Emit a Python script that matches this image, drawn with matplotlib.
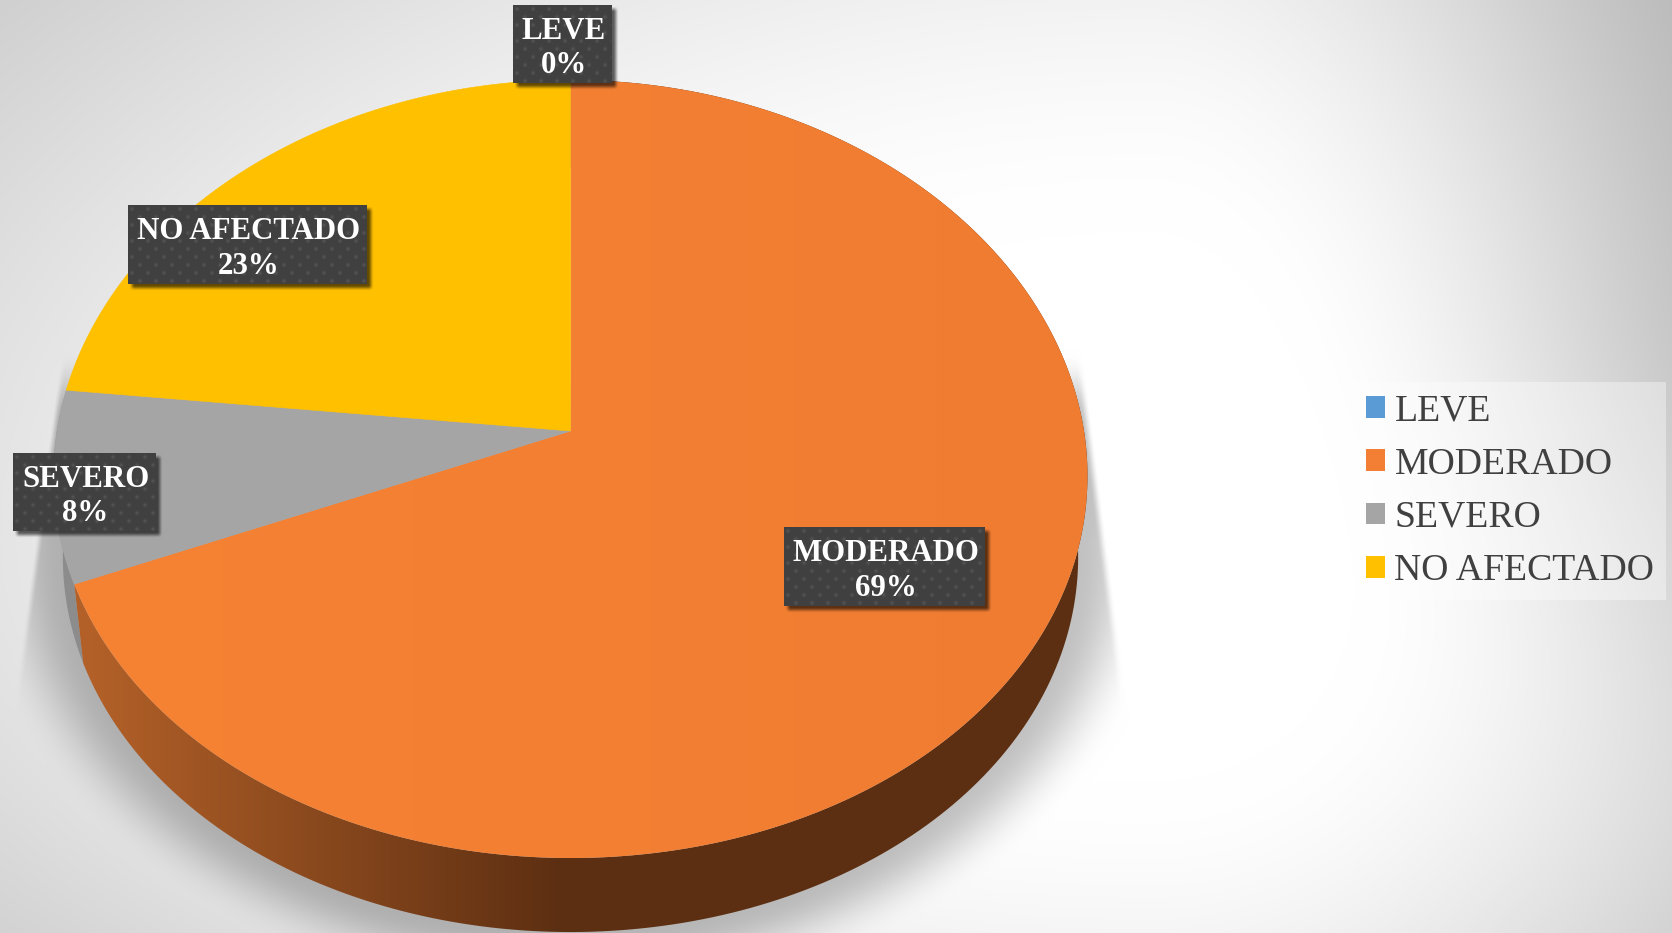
import numpy as np
import matplotlib
matplotlib.use("Agg")
import matplotlib.pyplot as plt
from matplotlib.patches import Patch, Polygon

categories = ["LEVE", "MODERADO", "SEVERO", "NO AFECTADO"]
percentages = [0, 69, 8, 23]
colors = ["#5B9BD5", "#F27F33", "#A5A5A5", "#FFC000"]
# label boxes: left, top, right, bottom in figure pixels
label_boxes = [(513, 5, 612, 83), (784, 527, 985, 606), (13, 453, 156, 531), (128, 205, 367, 284)]

W, H = 1672, 933
SERIF = "Liberation Serif"

# perspective disc parameters
CX, APEX_Y = 570.5, 431.0
A, B, K = 385.3, 514.5, 0.0977
SAG = 7.0
SCALE_LOW, APEX_LOW = 0.982, 512.7


def smooth(t):
    t = np.clip(t, 0, 1)
    return t * t * (3 - 2 * t)


def rim_top(theta):
    u, v = np.sin(theta), np.cos(theta)
    w = 1 + K * v
    return CX + B * u / w, APEX_Y - A * v / w + SAG * u ** 2


def rim_low(theta):
    x, y = rim_top(theta)
    return CX + SCALE_LOW * (x - CX), APEX_LOW + SCALE_LOW * (y - APEX_Y)


def background():
    yy, xx = np.mgrid[0:H, 0:W] + 0.5
    dx = xx - 1150.0
    sx = np.where(dx < 0, 2400.0, 800.0 + 300.0 * smooth((yy - 300.0) / 600.0))
    d = np.sqrt((dx / sx) ** 2 + ((yy - 540.0) / (np.where(yy < 540, 1400.0, 1100.0))) ** 2)
    base = 255 - 78 * smooth((d - 0.22) / 0.72) ** 0.9
    # soft shadow below the disc, limited by two slanted edges and starting at mid height
    def radius(cy, rx, ry):
        return np.sqrt(((xx - CX) / rx) ** 2 + ((yy - cy) / ry) ** 2)
    r = np.minimum(radius(469, 517, 389), radius(550, 508, 382))
    fade = smooth(1 - (r - 1) * 500 / 95) ** 1.3
    left_edge = 48 - (yy - 447) * 0.136
    right_edge = 1083 + (yy - 353) * 0.127
    mask = (smooth((xx - left_edge) / 8) * smooth((right_edge - xx) / 10)
            * smooth((yy - 350.0) / 70.0))
    base = base * (1 - 0.24 * fade * mask)
    return np.dstack([base] * 3) / 255


def gradient_fill(ax, poly, left_rgb, right_rgb, x0, x1, zorder):
    t = np.clip((np.arange(W) + 0.5 - x0) / (x1 - x0), 0, 1)
    row = np.outer(1 - t, left_rgb) + np.outer(t, right_rgb)
    im = ax.imshow(row[None, :, :] / 255, extent=(0, W, H, 0), aspect="auto", zorder=zorder)
    patch = Polygon(poly, closed=True, transform=ax.transData, fill=False, edgecolor="none")
    ax.add_patch(patch)
    im.set_clip_path(patch)


def label_box(ax, box, text):
    left, top, right, bottom = box
    # drop shadow, offset towards the lower right
    pad = 12
    yy, xx = np.mgrid[top - pad:bottom + pad + 6, left - pad:right + pad + 6] + 0.5
    sh = (smooth((xx - left - 1) / 6) * smooth((right + 7 - xx) / 6)
          * smooth((yy - top - 1) / 6) * smooth((bottom + 7 - yy) / 6))
    rgba = np.zeros(sh.shape + (4,))
    rgba[..., 3] = 0.62 * sh
    ax.imshow(rgba, extent=(left - pad, right + pad + 6, bottom + pad + 6, top - pad),
              aspect="auto", zorder=6)
    # dark fill with a staggered dot texture
    yy, xx = np.mgrid[0:bottom - top, 0:right - left] + 0.5
    px, py = xx % 16, yy % 16
    d1 = (px - 4) ** 2 + (py - 4) ** 2
    d2 = (px - 12) ** 2 + (py - 12) ** 2
    tex = 64 + 20 * np.exp(-np.minimum(d1, d2) / 3.5)
    ax.imshow(np.dstack([tex] * 3) / 255, extent=(left, right, bottom, top),
              aspect="auto", zorder=7)
    ax.text((left + right) / 2 + 1, (top + bottom) / 2 + 4.5, text, color="white",
            family=SERIF, fontweight="bold", fontsize=22.2, linespacing=1.25,
            ha="center", va="center", multialignment="center", zorder=8)


fig = plt.figure(figsize=(W / 100, H / 100), dpi=100)
ax = fig.add_axes([0, 0, 1, 1])
ax.imshow(background(), extent=(0, W, H, 0), aspect="auto", zorder=0)

fractions = np.array(percentages, dtype=float) / sum(percentages)
edges = np.concatenate([[0.0], np.cumsum(fractions)]) * 2 * np.pi

# side wall of the disc: grey sliver first, then the shaded orange wall
for i in (2, 1):
    th = np.linspace(edges[i], edges[i + 1], 240)
    tx, ty = rim_top(th)
    lx, ly = rim_low(th)
    wall = np.column_stack([np.r_[tx, lx[::-1]], np.r_[ty, ly[::-1]]])
    if i == 1:
        gradient_fill(ax, wall, (178, 96, 40), (93, 47, 18), 95, 560, 2)
    else:
        ax.add_patch(Polygon(wall, closed=True, facecolor="#8C8C8C", edgecolor="none", zorder=2))

# top face, one wedge per category
for i, (value, color) in enumerate(zip(percentages, colors)):
    if value == 0:
        continue
    th = np.linspace(edges[i], edges[i + 1], 360)
    tx, ty = rim_top(th)
    poly = np.column_stack([np.r_[CX, tx], np.r_[APEX_Y, ty]])
    if categories[i] == "MODERADO":
        gradient_fill(ax, poly, (246, 131, 52), (239, 124, 49), 80, 1080, 3)
    else:
        ax.add_patch(Polygon(poly, closed=True, facecolor=color, edgecolor=color, lw=0.4, zorder=3))

for cat, value, box in zip(categories, percentages, label_boxes):
    label_box(ax, box, f"{cat}\n{value}%")

ax.set_xlim(0, W)
ax.set_ylim(H, 0)
ax.axis("off")

handles = [Patch(facecolor=c, edgecolor="none", label=n) for n, c in zip(categories, colors)]
leg = ax.legend(handles=handles, loc="upper left", bbox_to_anchor=(1354, 382),
                bbox_transform=ax.transData,
                prop={"family": SERIF, "size": 27.2}, labelcolor="#404040",
                frameon=True, fancybox=False, facecolor="white", edgecolor="none", framealpha=0.38,
                borderaxespad=0, borderpad=0.31, handlelength=0.5, handleheight=0.5,
                handletextpad=0.26, labelspacing=0.5)
leg.set_zorder(5)

fig.savefig("out.png", dpi=100)
